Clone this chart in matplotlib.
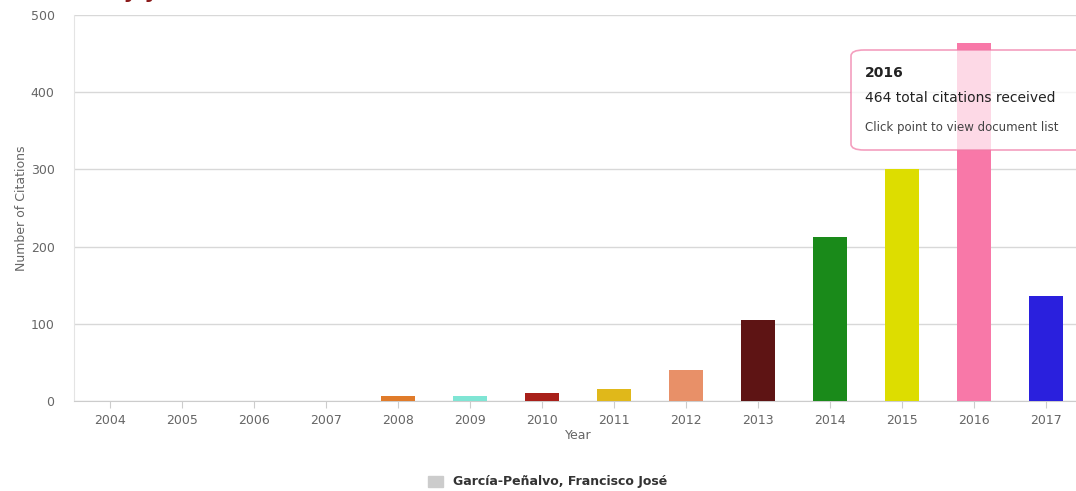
import matplotlib
matplotlib.use("Agg")
import matplotlib.pyplot as plt
from matplotlib.patches import FancyBboxPatch, Patch

years = ["2004", "2005", "2006", "2007", "2008", "2009", "2010",
         "2011", "2012", "2013", "2014", "2015", "2016", "2017"]
citations = [0, 0, 0, 0, 6, 7, 10, 15, 40, 105, 212, 300, 464, 136]
colors = ["#7cb5ec", "#434348", "#90ed7d", "#f7a35c", "#e07b2a", "#7fe5d4",
          "#a8201a", "#e0b81a", "#e89068", "#5e1414", "#1a8a1a", "#dddd00",
          "#f878a8", "#2a20dd"]
yticks = [0, 100, 200, 300, 400, 500]

GRID = "#d8d8d8"
TXT = "#666666"

W, H = 1076, 491
fig = plt.figure(figsize=(W / 100, H / 100), dpi=100)
ax = fig.add_axes([74 / W, 1 - 401 / H, (1082 - 74) / W, (401 - 15) / H])

x = list(range(len(years)))
ax.bar(x, citations, width=0.48, color=colors, zorder=3)

ax.set_xlim(-0.5, len(years) - 0.5)
ax.set_ylim(0, 500)
ax.set_yticks(yticks)
ax.set_xticks(x)
ax.set_xticklabels(years)
ax.yaxis.grid(True, color=GRID, lw=1)
ax.set_axisbelow(True)
for s in ["top", "right"]:
    ax.spines[s].set_visible(False)
ax.spines["left"].set_color("#e4e4e4")
ax.spines["bottom"].set_color("#cccccc")
ax.tick_params(axis="y", length=0, labelsize=9, colors=TXT, pad=14)
ax.tick_params(axis="x", length=5, color="#cccccc", labelsize=9, labelcolor=TXT, pad=4)
ax.set_xlabel("Year", fontsize=9, color=TXT, labelpad=2)
ax.set_ylabel("Number of Citations", fontsize=9, color=TXT, labelpad=2)

# title, mostly cropped off the top edge (as in the source screenshot)
fig.text(197 / W, 1 + 2 / H, "Citations by year", ha="right", va="baseline",
         fontsize=15, color="#8b1a1a", fontweight="bold")

# tooltip box
box = FancyBboxPatch((851 / W, 1 - 150 / H), 260 / W, 100 / H,
                     boxstyle="round,pad=0,rounding_size=0.012",
                     transform=fig.transFigure, facecolor="white", alpha=0.72,
                     edgecolor="#f07aa6", lw=1.2, zorder=10)
fig.patches.append(box)
fig.text(865 / W, 1 - 73 / H, "2016", fontsize=10, fontweight="bold",
         color="#222222", va="center", zorder=11)
fig.text(865 / W, 1 - 98 / H, "464 total citations received", fontsize=10,
         color="#222222", va="center", zorder=11)
fig.text(865 / W, 1 - 128 / H, "Click point to view document list", fontsize=8.5,
         color="#444444", va="center", zorder=11)

leg = fig.legend(handles=[Patch(color="#cccccc")],
                 labels=["García-Peñalvo, Francisco José"],
                 loc="center", bbox_to_anchor=(548 / W, 1 - 482 / H),
                 frameon=False, handlelength=1.2, handleheight=1.0,
                 prop={"size": 9, "weight": "bold"})
for t in leg.get_texts():
    t.set_color("#333333")

fig.savefig("out.png", dpi=100)
